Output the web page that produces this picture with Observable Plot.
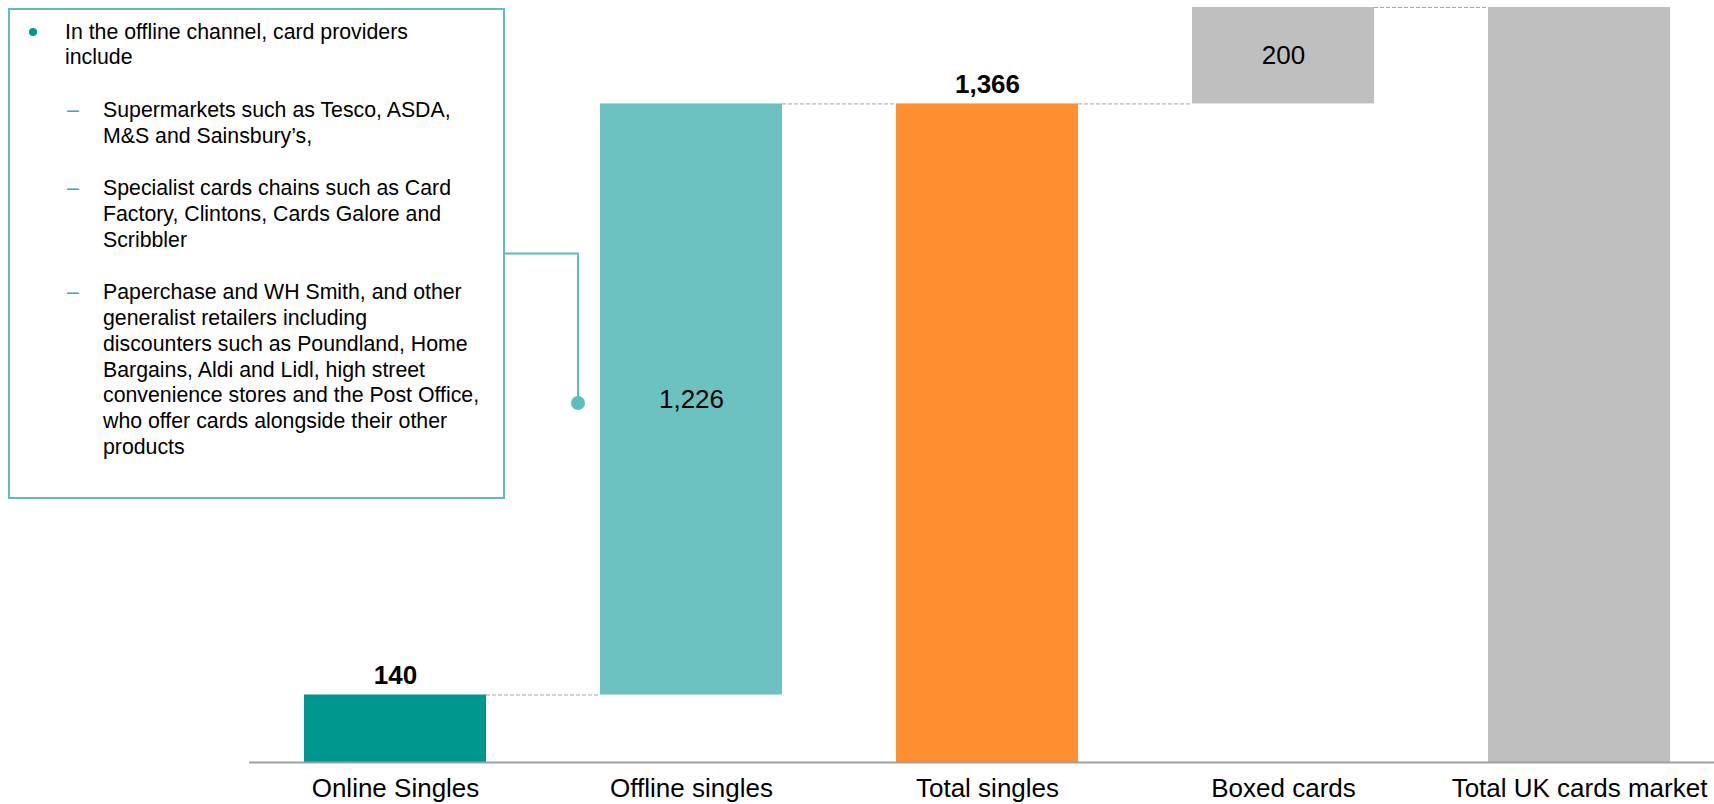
<!DOCTYPE html>
<html>
<head>
<meta charset="utf-8">
<script src="https://cdn.jsdelivr.net/npm/d3@7"></script>
<script src="https://cdn.jsdelivr.net/npm/@observablehq/plot@0.6"></script>
<style>
  html, body { margin: 0; padding: 0; background: #fff; overflow: hidden; }
  #wrap { position: relative; width: 1714px; height: 804px; font-family: "Liberation Sans", Arial, sans-serif; }
  #chart { position: absolute; left: 0; top: 0; }
  #callout {
    position: absolute; left: 8px; top: 8px; width: 497px; height: 491px;
    border: 2px solid #5BBDBD; box-sizing: border-box; background: #fff;
    font-size: 21.3px; line-height: 25.7px; color: #000; white-space: nowrap;
  }
  #callout .p { position: relative; white-space: nowrap; }
  #callout .lvl1 { margin-left: 55px; margin-top: 9.5px; }
  #callout .lvl2 { margin-left: 93px; margin-top: 27px; }
  #callout .bullet { position: absolute; left: -36px; top: 8.5px; width: 8px; height: 8px; border-radius: 50%; background: #009690; }
  #callout .dash { position: absolute; left: -36px; top: 0; color: #2FAFAF; }
  #overlay { position: absolute; left: 0; top: 0; pointer-events: none; }
</style>
</head>
<body>
<div id="wrap">
  <div id="chart"></div>
  <div id="callout"></div>
  <svg id="overlay" width="1714" height="804"></svg>
</div>
<script>
// ---- data ----
const categories = ["Online Singles", "Offline singles", "Total singles", "Boxed cards", "Total UK cards market"];
const values = [140, 1226, 1366, 200, 1566];
const kinds = ["step", "step", "total", "step", "total"];
const barColors = ["#009690", "#6CC1C1", "#FF8F30", "#BFBFBF", "#BFBFBF"];
const valueLabels = ["140", "1,226", "1,366", "200", ""];
const labelPlacement = ["above", "inside", "above", "inside", "none"];

const calloutLead = ["In the offline channel, card providers", "include"];
const calloutItems = [
  ["Supermarkets such as Tesco, ASDA,", "M&S and Sainsbury’s,"],
  ["Specialist cards chains such as Card", "Factory, Clintons, Cards Galore and", "Scribbler"],
  ["Paperchase and WH Smith, and other", "generalist retailers including", "discounters such as Poundland,  Home", "Bargains, Aldi and Lidl, high street", "convenience stores and the Post Office,", "who offer cards alongside their other", "products"]
];
const calloutTarget = "Offline singles";

// ---- waterfall table ----
let running = 0;
const rows = categories.map((cat, i) => {
  let y1, y2;
  if (kinds[i] === "step") { y1 = running; y2 = running + values[i]; running = y2; }
  else { y1 = 0; y2 = values[i]; running = values[i]; }
  return {cat, y1, y2, mid: (y1 + y2) / 2, color: barColors[i], label: valueLabels[i], place: labelPlacement[i]};
});
const links = rows.slice(0, -1).map((r, i) => ({from: r.cat, to: rows[i + 1].cat, y: r.y2}));

const font = "'Liberation Sans', Arial, sans-serif";

function build(bw) {
  return Plot.plot({
    width: 1714, height: 804,
    marginTop: 7, marginBottom: 42, marginLeft: 249, marginRight: 0,
    x: {domain: categories, paddingInner: 0.385, paddingOuter: 0.167, align: 0.556, label: null},
    y: {domain: [0, d3.max(rows, d => d.y2)], axis: null},
    color: {type: "identity"},
    style: {fontFamily: font, fontSize: "26px", color: "#000", background: "transparent", overflow: "visible"},
    marks: [
      Plot.rectY(rows, {x: "cat", y1: "y1", y2: "y2", fill: "color"}),
      Plot.ruleY(links, {y: "y", x1: "from", x2: "to", insetLeft: bw, insetRight: bw, stroke: "#A6A6A6", strokeWidth: 1, strokeDasharray: "4,2"}),
      Plot.ruleY([0], {stroke: "#A0A0A0", strokeWidth: 2}),
      Plot.text(rows.filter(d => d.place === "above"), {x: "cat", y: "y2", text: "label", dy: -19.5, fontWeight: "bold", fontSize: 26, fill: "#000"}),
      Plot.text(rows.filter(d => d.place === "inside"), {x: "cat", y: "mid", text: "label", fontSize: 26, fill: "#000"}),
      Plot.axisX({tickSize: 0, tickPadding: 16, fontSize: 26, label: null, fill: "#000"})
    ]
  });
}

const probe = build(0);
const bw = probe.scale("x").bandwidth;
const chart = build(bw);
document.getElementById("chart").appendChild(chart);

// ---- callout ----
const callout = document.getElementById("callout");
const lead = document.createElement("div");
lead.className = "p lvl1";
lead.innerHTML = '<span class="bullet"></span>' + calloutLead.join("<br>");
callout.appendChild(lead);
for (const item of calloutItems) {
  const p = document.createElement("div");
  p.className = "p lvl2";
  p.innerHTML = '<span class="dash">–</span>' + item.map(s => s.replace(/&/g, "&amp;")).join("<br>");
  callout.appendChild(p);
}

// connector from callout box to target bar
const xs = chart.scale("x"), ys = chart.scale("y");
const target = rows.find(r => r.cat === calloutTarget);
const box = callout.getBoundingClientRect();
const wrapBox = document.getElementById("wrap").getBoundingClientRect();
const bx = box.right - wrapBox.left;
const by = box.top - wrapBox.top + box.height / 2;
const dx = xs.apply(calloutTarget) - 22;
const dy = ys.apply(target.mid) + 4;
const ov = d3.select("#overlay");
ov.append("path")
  .attr("d", `M${bx},${by}H${dx}V${dy}`)
  .attr("fill", "none").attr("stroke", "#5BBDBD").attr("stroke-width", 2);
ov.append("circle").attr("cx", dx).attr("cy", dy).attr("r", 7).attr("fill", "#5BBDBD");
</script>
</body>
</html>
